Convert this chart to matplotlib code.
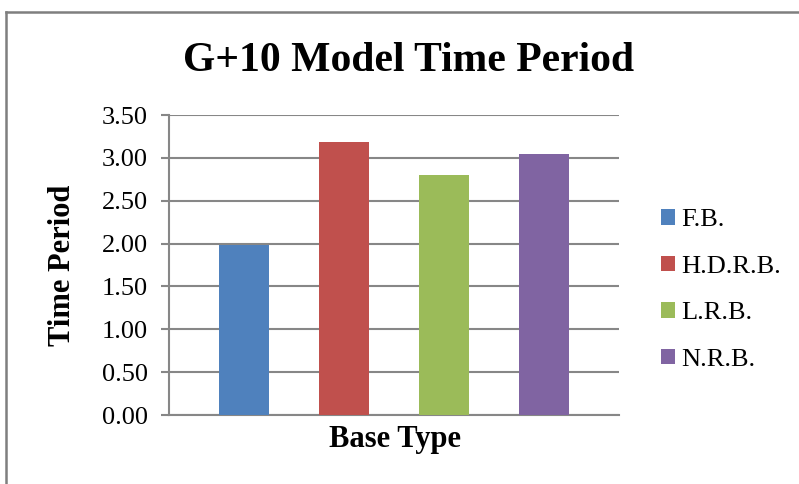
import numpy as np
import matplotlib
matplotlib.use('Agg')
import matplotlib.pyplot as plt
from matplotlib.lines import Line2D
from matplotlib.patches import Patch

# Data
base_types = ['F.B.', 'H.D.R.B.', 'L.R.B.', 'N.R.B.']
time_period = [1.98, 3.18, 2.80, 3.04]
bar_colors = ['#4F81BD', '#C0504D', '#9BBB59', '#8064A2']
y_ticks = [0.0, 0.5, 1.0, 1.5, 2.0, 2.5, 3.0, 3.5]

plt.rcParams['font.family'] = ['Liberation Serif', 'DejaVu Serif']

W, H = 799, 484
fig = plt.figure(figsize=(W / 100, H / 100), dpi=100)
ax = fig.add_axes([169 / W, 1 - 415 / H, 450 / W, 300 / H])

grid_col = '#878787'
x = np.arange(len(base_types))
ax.bar(x, time_period, width=0.5, color=bar_colors, zorder=3)

ax.set_xlim(-0.75, len(base_types) - 0.25)
ax.set_ylim(0, 3.5)
ax.set_yticks(y_ticks)
ax.set_yticklabels([f'{v:.2f}' for v in y_ticks], fontsize=19)
ax.set_xticks([])
ax.yaxis.grid(True, color=grid_col, linewidth=1.5, zorder=0)
ax.tick_params(axis='y', direction='out', length=6, width=1.5, color=grid_col, pad=9)
for s in ['top', 'right']:
    ax.spines[s].set_visible(False)
for s in ['left', 'bottom']:
    ax.spines[s].set_color(grid_col)
    ax.spines[s].set_linewidth(1.5)

# titles and axis labels
fig.text(409 / W, 1 - 61 / H, 'G+10 Model Time Period', ha='center', va='center',
         fontsize=30, fontweight='bold')
fig.text(395 / W, 1 - 440 / H, 'Base Type', ha='center', va='center',
         fontsize=22, fontweight='bold')
fig.text(62 / W, 1 - 265 / H, 'Time Period', ha='center', va='center',
         fontsize=22, fontweight='bold', rotation=90)

# legend
handles = [Patch(facecolor=c, edgecolor='none') for c in bar_colors]
fig.legend(handles, base_types, loc='center left', bbox_to_anchor=(661 / W, 1 - 290 / H),
           frameon=False, fontsize=19, handlelength=0.53, handleheight=0.53,
           handletextpad=0.25, labelspacing=0.92, borderpad=0, borderaxespad=0)

# chart border (left and top visible)
fig.add_artist(Line2D([6 / W, 6 / W], [0, 1 - 12 / H], color='#7f7f7f', linewidth=1.8))
fig.add_artist(Line2D([6 / W, 1], [1 - 12 / H, 1 - 12 / H], color='#7f7f7f', linewidth=1.8))

fig.savefig('out.png', dpi=100)
